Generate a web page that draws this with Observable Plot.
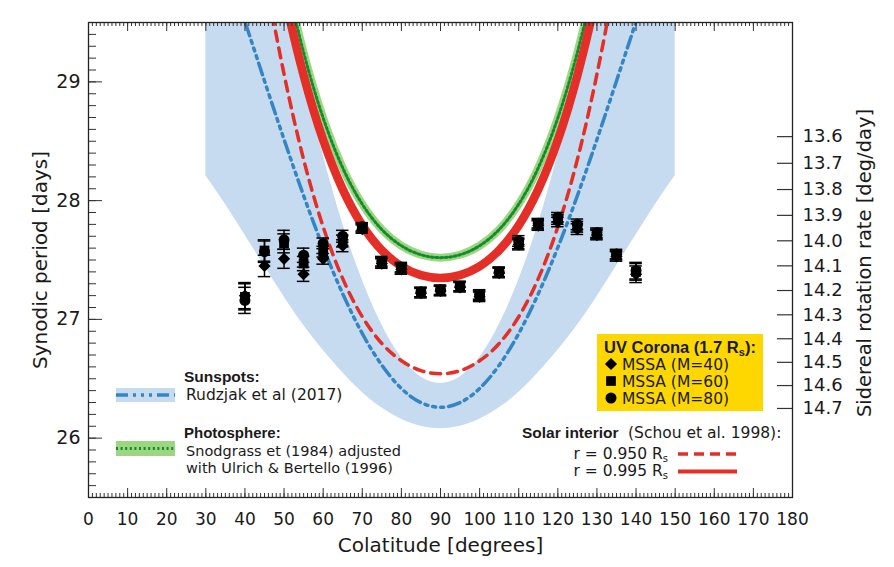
<!DOCTYPE html>
<html><head><meta charset="utf-8">
<script src="https://cdn.jsdelivr.net/npm/d3@7"></script>
<script src="https://cdn.jsdelivr.net/npm/@observablehq/plot@0.6"></script>
<style>body{margin:0;background:#fff} svg{display:block}</style>
</head><body><div id="chart"></div>
<script>
// ---- data ----
const bandColat = [30,35,40,45,50,55,60,65,70,75,80,85,90,95,100,105,110,115,120,125,130,135,140,145,150];
const bandLow  = [28.21,27.97,27.71,27.45,27.19,26.95,26.74,26.55,26.385,26.255,26.158,26.099,26.079,26.099,26.158,26.255,26.385,26.55,26.74,26.95,27.19,27.45,27.71,27.97,28.21];
const bandHigh = [32.71,32.0,31.26,30.5,29.77,29.04,28.385,27.805,27.331,26.954,26.678,26.514,26.46,26.514,26.678,26.954,27.331,27.805,28.385,29.04,29.77,30.5,31.26,32.0,32.71];
const sunspotP = [30.464,29.998,29.508,29.008,28.515,28.042,27.605,27.215,26.881,26.614,26.418,26.299,26.26,26.299,26.418,26.614,26.881,27.215,27.605,28.042,28.515,29.008,29.508,29.998,30.464];

const curveColat = [40,45,50,55,60,65,70,75,80,85,90,95,100,105,110,115,120,125,130,135,140];
const interior995 = [31.605,30.597,29.747,29.055,28.509,28.095,27.792,27.582,27.447,27.373,27.349,27.373,27.447,27.582,27.792,28.095,28.509,29.055,29.747,30.597,31.605];
const interior950 = [30.98,29.942,29.065,28.347,27.779,27.343,27.022,26.797,26.651,26.568,26.542,26.568,26.651,26.797,27.022,27.343,27.779,28.347,29.065,29.942,30.98];
const photosphere = [31.834,30.812,29.95,29.248,28.696,28.276,27.97,27.757,27.62,27.544,27.52,27.544,27.62,27.757,27.97,28.276,28.696,29.248,29.95,30.812,31.834];

const obsColat = [40,45,50,55,60,65,70,75,80,85,90,95,100,105,110,115,120,125,130,135,140];
const mssa40 = [27.20,27.45,27.51,27.38,27.51,27.62,27.76,27.47,27.42,27.22,27.24,27.27,27.19,27.39,27.63,27.79,27.82,27.76,27.71,27.53,27.38];
const mssa60 = [27.19,27.58,27.64,27.47,27.57,27.66,27.77,27.48,27.43,27.23,27.24,27.28,27.20,27.40,27.64,27.80,27.84,27.78,27.72,27.54,27.40];
const mssa80 = [27.16,27.57,27.67,27.54,27.64,27.70,27.78,27.49,27.44,27.23,27.25,27.28,27.21,27.40,27.66,27.81,27.86,27.80,27.73,27.55,27.41];
const obsErr = [0.11,0.09,0.08,0.06,0.045,0.05,0.035,0.04,0.04,0.04,0.04,0.04,0.04,0.04,0.045,0.04,0.04,0.045,0.04,0.04,0.07];

const xTickLabels = [0,10,20,30,40,50,60,70,80,90,100,110,120,130,140,150,160,170,180];
const yTickLabels = [26,27,28,29];
const rateTickLabels = [13.6,13.7,13.8,13.9,14.0,14.1,14.2,14.3,14.4,14.5,14.6,14.7];

// ---- layout ----
const W = 894, H = 567, mL = 88, mR = 102, mT = 22, mB = 70;
const innerW = W - mL - mR, innerH = H - mT - mB;
const FONT = "DejaVu Sans";
const BOLD = "Liberation Sans";
const INK = "#1a1a1a";
const BLUE = "#3585c5", RED = "#e32f27", BAND = "#c6dbef", LGREEN = "#9dd680", DGREEN = "#168a30";

const band = bandColat.map((c, i) => ({c, lo: bandLow[i], hi: bandHigh[i], mid: sunspotP[i]}));
const mk = arr => curveColat.map((c, i) => ({c, p: arr[i]}));
const r995 = mk(interior995), r950 = mk(interior950), green = mk(photosphere);
const obs = [];
[[mssa40, "diamond2"], [mssa60, "square"], [mssa80, "circle"]].forEach(([arr, sym]) => {
  obsColat.forEach((c, i) => obs.push({c, p: arr[i], e: obsErr[i], sym}));
});
const synodic = rate => 360 / (rate - 0.9856);

const minorY = d3.range(255, 296).map(v => v / 10);
const minorX = d3.range(0, 181);

const plot = Plot.plot({
  width: W, height: H,
  marginLeft: mL, marginRight: mR, marginTop: mT, marginBottom: mB,
  style: {fontFamily: FONT, background: "white", color: INK},
  x: {domain: [0, 180], axis: null},
  y: {domain: [25.5, 29.5], axis: null},
  marks: [
    Plot.areaY(band, {x: "c", y1: "lo", y2: "hi", fill: BAND, curve: "natural", clip: true}),
    Plot.line(band, {x: "c", y: "mid", stroke: BLUE, strokeWidth: 3.5, strokeDasharray: "12,5,3,5,3,5,3,5", curve: "natural", clip: true}),
    Plot.line(r950, {x: "c", y: "p", stroke: RED, strokeWidth: 3.5, strokeDasharray: "10,7", curve: "natural", clip: true}),
    Plot.line(green, {x: "c", y: "p", stroke: LGREEN, strokeWidth: 8, curve: "natural", clip: true}),
    Plot.line(green, {x: "c", y: "p", stroke: DGREEN, strokeWidth: 3, strokeDasharray: "2,2.6", curve: "natural", clip: true}),
    Plot.line(r995, {x: "c", y: "p", stroke: RED, strokeWidth: 8.5, curve: "natural", clip: true}),
    // error bars
    Plot.ruleX(obs, {x: "c", y1: d => d.p - d.e, y2: d => d.p + d.e, stroke: "black", strokeWidth: 1.5}),
    Plot.ruleY(obs, {y: d => d.p - d.e, x1: d => d.c - 1.6, x2: d => d.c + 1.6, stroke: "black", strokeWidth: 1.5}),
    Plot.ruleY(obs, {y: d => d.p + d.e, x1: d => d.c - 1.6, x2: d => d.c + 1.6, stroke: "black", strokeWidth: 1.5}),
    Plot.dot(obs, {x: "c", y: "p", symbol: "sym", r: 5.5, fill: "black", stroke: "none"}),
    // inward ticks
    Plot.tickY(minorY, {y: d => d, insetRight: innerW - 8, stroke: "#333", strokeWidth: 1}),
    Plot.tickY(yTickLabels, {y: d => d, insetRight: innerW - 14, stroke: "#333", strokeWidth: 1}),
    Plot.tickX(minorX, {x: d => d, insetBottom: innerH - 4, stroke: "#333", strokeWidth: 1}),
    Plot.tickX(xTickLabels, {x: d => d, insetBottom: innerH - 9, stroke: "#333", strokeWidth: 1}),
    Plot.tickX(minorX, {x: d => d, insetTop: innerH - 4, stroke: "#333", strokeWidth: 1}),
    Plot.tickX(xTickLabels, {x: d => d, insetTop: innerH - 9, stroke: "#333", strokeWidth: 1}),
    Plot.tickY(rateTickLabels, {y: d => synodic(d), insetLeft: innerW - 15, stroke: "#333", strokeWidth: 1.2}),
    Plot.frame({stroke: "#222", strokeWidth: 1.3}),
    // tick labels
    Plot.text(yTickLabels, {y: d => d, text: d => String(d), frameAnchor: "left", textAnchor: "end", dx: -8, fontSize: 19, fill: INK}),
    Plot.text(xTickLabels, {x: d => d, text: d => String(d), frameAnchor: "bottom", lineAnchor: "top", dy: 15, fontSize: 17, fill: INK}),
    Plot.text(rateTickLabels, {y: d => synodic(d), text: d => d.toFixed(1), frameAnchor: "right", textAnchor: "start", dx: 10, fontSize: 18, fill: INK}),
    // axis titles
    Plot.text(["Colatitude [degrees]"], {text: d => d, frameAnchor: "bottom", textAnchor: "middle", lineAnchor: "top", dy: 40, fontSize: 20, fill: INK}),
    Plot.text(["Synodic period [days]"], {text: d => d, frameAnchor: "left", textAnchor: "middle", dx: -48, rotate: -90, fontSize: 20, fill: INK}),
    Plot.text(["Sidereal rotation rate [deg/day]"], {text: d => d, frameAnchor: "right", textAnchor: "middle", dx: 72, dy: 3, rotate: -90, fontSize: 19.5, fill: INK})
  ]
});
document.getElementById("chart").appendChild(plot);

// ---- legends (drawn into the same SVG) ----
const svg = d3.select(plot);
const g = svg.append("g").attr("font-family", FONT).attr("fill", INK).attr("font-size", 15.5);
function txt(x, y, parts, opts = {}) {
  const t = g.append("text").attr("x", x).attr("y", y);
  if (opts.anchor) t.attr("text-anchor", opts.anchor);
  if (opts.bold) t.attr("font-family", BOLD).attr("font-weight", "bold").attr("font-size", opts.size || 15.5);
  else if (opts.size) t.attr("font-size", opts.size);
  parts.forEach(p => {
    if (typeof p === "string") t.append("tspan").text(p);
    else t.append("tspan").attr("font-size", p.size || 10).attr("dy", p.dy).text(p.t);
  });
  return t;
}
// Sunspots
txt(184, 382, ["Sunspots:"], {bold: true, anchor: "start"});
g.append("rect").attr("x", 116).attr("y", 388).attr("width", 59).attr("height", 14).attr("fill", BAND);
g.append("line").attr("x1", 116).attr("x2", 175).attr("y1", 395).attr("y2", 395)
  .attr("stroke", BLUE).attr("stroke-width", 3.5).attr("stroke-dasharray", "12,5,3,5,3,5,3,5");
txt(186, 400, ["Rudzjak et al (2017)"], {anchor: "start"});
// Photosphere
txt(184, 438, ["Photosphere:"], {bold: true, anchor: "start", size: 15});
g.append("rect").attr("x", 116).attr("y", 441).attr("width", 59).attr("height", 15).attr("fill", LGREEN);
g.append("line").attr("x1", 116).attr("x2", 175).attr("y1", 448.5).attr("y2", 448.5)
  .attr("stroke", DGREEN).attr("stroke-width", 3).attr("stroke-dasharray", "2,2.6");
txt(186, 456, ["Snodgrass et (1984) adjusted"], {anchor: "start", size: 14.5});
txt(186, 473, ["with Ulrich & Bertello (1996)"], {anchor: "start", size: 14.5});
// UV corona box
g.append("rect").attr("x", 597).attr("y", 334).attr("width", 166).attr("height", 77).attr("fill", "#ffd700");
txt(604, 353, ["UV Corona (1.7 R", {t: "s", dy: 3, size: 11}, {t: "):", dy: -3, size: 16.5}], {bold: true, anchor: "start", size: 16.5});
const syms = [[d3.symbolDiamond2, 364, "MSSA (M=40)"], [d3.symbolSquare, 381, "MSSA (M=60)"], [d3.symbolCircle, 398, "MSSA (M=80)"]];
syms.forEach(([s, y, label]) => {
  g.append("path").attr("d", d3.symbol(s, 95)()).attr("transform", `translate(611,${y})`).attr("fill", "black");
  txt(622, y + 6, [label], {anchor: "start"});
});
// Solar interior
txt(522, 438, ["Solar interior"], {bold: true, anchor: "start"});
txt(628, 438, ["(Schou et al. 1998):"], {anchor: "start"});
txt(668, 459, ["r = 0.950 R", {t: "s", dy: 3, size: 10}], {anchor: "end"});
txt(668, 476, ["r = 0.995 R", {t: "s", dy: 3, size: 10}], {anchor: "end"});
g.append("line").attr("x1", 678).attr("x2", 737).attr("y1", 454).attr("y2", 454)
  .attr("stroke", RED).attr("stroke-width", 3.5).attr("stroke-dasharray", "10,6");
g.append("line").attr("x1", 678).attr("x2", 737).attr("y1", 471.5).attr("y2", 471.5)
  .attr("stroke", RED).attr("stroke-width", 4);
</script>
</body></html>
